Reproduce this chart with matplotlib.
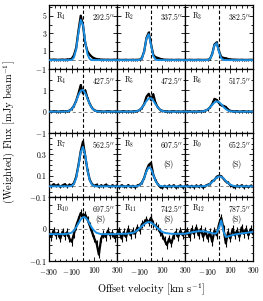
import matplotlib
matplotlib.use("Agg")
import matplotlib.pyplot as plt
from matplotlib.ticker import FixedLocator, MultipleLocator

plt.rcParams["font.family"] = "serif"
plt.rcParams["font.serif"] = ["cmr10", "DejaVu Serif"]
plt.rcParams["mathtext.fontset"] = "cm"
plt.rcParams["axes.formatter.use_mathtext"] = True

# offset velocity grid [km/s]
velocity = [-300, -280, -260, -240, -220, -200, -180, -160, -140, -120,
            -100, -80, -60, -40, -20, 0, 20, 40, 60, 80,
            100, 120, 140, 160, 180, 200, 220, 240, 260, 280, 300]

regions = ["R$_{1}$", "R$_{2}$", "R$_{3}$", "R$_{4}$", "R$_{5}$", "R$_{6}$",
           "R$_{7}$", "R$_{8}$", "R$_{9}$", "R$_{10}$", "R$_{11}$", "R$_{12}$"]
offsets = ["292.5", "337.5", "382.5", "427.5", "472.5", "517.5",
           "562.5", "607.5", "652.5", "697.5", "742.5", "787.5"]
smoothed = [False, False, False, False, False, False,
            False, True, True, True, True, True]

obs_r1 = [0.05, 0.04, 0.06, 0.05, 0.03, 0.05, 0.06, 0.04, 0.07, 0.08,
          0.15, 0.55, 1.4, 3.3, 5.0, 3.9, 1.9, 0.95, 0.6, 0.35,
          0.2, 0.12, 0.08, 0.06, 0.05, 0.04, 0.05, 0.03, 0.04, 0.05, 0.04]
obs_r2 = [0.03, 0.04, 0.02, 0.03, 0.04, 0.02, 0.03, 0.04, 0.03, 0.04,
          0.05, 0.25, 1.0, 2.5, 3.1, 1.8, 0.6, 0.3, 0.25, 0.15,
          0.08, 0.05, 0.04, 0.03, 0.04, 0.02, 0.03, 0.04, 0.03, 0.02, 0.03]
obs_r3 = [0.03, 0.02, 0.04, 0.03, 0.02, 0.03, 0.04, 0.03, 0.02, 0.03,
          0.04, 0.12, 0.7, 1.75, 2.0, 1.0, 0.35, 0.25, 0.2, 0.12,
          0.08, 0.06, 0.05, 0.04, 0.03, 0.04, 0.03, 0.02, 0.03, 0.04, 0.03]
obs_r4 = [0.01, 0.00, 0.02, 0.01, 0.00, 0.01, 0.02, 0.01, 0.02, 0.05,
          0.13, 0.28, 0.52, 0.85, 1.25, 0.85, 1.0, 0.62, 0.36, 0.17,
          0.07, 0.03, 0.02, 0.01, 0.00, 0.01, 0.02, 0.01, 0.00, 0.01, 0.01]
obs_r5 = [0.01, 0.00, 0.01, 0.02, 0.00, 0.01, 0.00, 0.01, 0.02, 0.03,
          0.08, 0.18, 0.36, 0.7, 0.84, 0.55, 0.82, 0.4, 0.2, 0.09,
          0.04, 0.02, 0.01, 0.00, 0.01, 0.02, 0.00, 0.01, 0.00, 0.01, 0.00]
obs_r6 = [0.00, 0.01, 0.02, 0.00, 0.01, 0.00, 0.02, 0.01, 0.02, 0.05,
          0.1, 0.2, 0.35, 0.6, 0.55, 0.4, 0.3, 0.27, 0.22, 0.1,
          0.04, 0.02, 0.01, 0.02, 0.00, 0.01, 0.02, 0.00, 0.01, 0.00, 0.01]
obs_r7 = [0.012, 0.000, 0.020, 0.005, 0.015, -0.005, 0.010, 0.020, 0.000, 0.015,
          0.010, 0.030, 0.090, 0.200, 0.330, 0.420, 0.280, 0.150, 0.060, 0.020,
          0.005, 0.015, -0.005, 0.010, 0.000, 0.015, 0.005, -0.005, 0.010, 0.000, 0.008]
obs_r8 = [0.005, -0.010, 0.010, 0.000, -0.005, 0.012, -0.008, 0.005, -0.010, 0.008,
          0.015, 0.035, 0.080, 0.150, 0.200, 0.220, 0.110, 0.055, 0.020, -0.005,
          -0.015, 0.005, -0.010, 0.008, -0.005, 0.010, -0.012, 0.000, 0.008, -0.010, 0.000]
obs_r9 = [0.000, 0.010, -0.008, 0.005, -0.010, 0.008, -0.005, 0.010, -0.012, 0.005,
          0.015, 0.020, 0.050, 0.060, 0.090, 0.100, 0.095, 0.070, 0.045, 0.035,
          0.010, 0.000, -0.010, 0.008, -0.005, 0.010, -0.010, 0.005, -0.008, 0.006, -0.004]
obs_r10 = [-0.010, -0.025, -0.005, -0.020, -0.012, -0.030, -0.008, -0.022, -0.010, -0.030,
           -0.040, -0.015, 0.010, 0.030, 0.050, 0.040, 0.045, 0.030, 0.010, -0.010,
           -0.030, -0.045, -0.080, -0.030, -0.015, -0.025, -0.005, -0.020, -0.012, -0.028, -0.015]
obs_r11 = [-0.020, -0.005, -0.030, -0.010, -0.025, 0.000, -0.020, -0.005, -0.015, 0.005,
           -0.005, 0.015, 0.020, 0.030, 0.020, 0.035, 0.015, 0.010, 0.005, -0.010,
           -0.020, -0.035, -0.050, -0.030, -0.045, -0.020, -0.010, -0.025, -0.005, -0.020, -0.010]
obs_r12 = [-0.020, -0.005, -0.025, 0.000, -0.015, 0.005, -0.020, 0.000, -0.025, -0.005,
           -0.030, -0.010, -0.040, -0.005, -0.020, 0.015, 0.035, 0.000, -0.045, -0.010,
           -0.030, 0.000, -0.020, -0.005, -0.025, 0.005, -0.015, 0.000, -0.020, 0.000, -0.015]

# model fit (blue)
fit_r1 = [0, 0, 0, 0, 0, 0, 0, 0, 0, 0,
          0.02, 0.29, 1.22, 3.05, 4.53, 3.97, 2.06, 0.63, 0.11, 0.01,
          0, 0, 0, 0, 0, 0, 0, 0, 0, 0, 0]
fit_r2 = [0, 0, 0, 0, 0, 0, 0, 0, 0, 0,
          0.02, 0.19, 0.98, 2.44, 2.93, 1.70, 0.47, 0.06, 0, 0,
          0, 0, 0, 0, 0, 0, 0, 0, 0, 0, 0]
fit_r3 = [0, 0, 0, 0, 0, 0, 0, 0, 0, 0,
          0.01, 0.11, 0.65, 1.68, 1.90, 0.94, 0.20, 0.02, 0, 0,
          0, 0, 0, 0, 0, 0, 0, 0, 0, 0, 0]
fit_r4 = [0, 0, 0, 0, 0, 0, 0, 0.003, 0.012, 0.04,
          0.12, 0.27, 0.50, 0.78, 0.98, 1.02, 0.87, 0.61, 0.35, 0.16,
          0.06, 0.02, 0.005, 0, 0, 0, 0, 0, 0, 0, 0]
fit_r5 = [0, 0, 0, 0, 0, 0, 0, 0.002, 0.009, 0.03,
          0.083, 0.18, 0.34, 0.50, 0.62, 0.63, 0.52, 0.35, 0.20, 0.09,
          0.034, 0.01, 0.003, 0, 0, 0, 0, 0, 0, 0, 0]
fit_r6 = [0, 0, 0, 0, 0, 0, 0, 0.005, 0.016, 0.044,
          0.10, 0.20, 0.32, 0.43, 0.48, 0.45, 0.35, 0.22, 0.12, 0.053,
          0.02, 0.006, 0.002, 0, 0, 0, 0, 0, 0, 0, 0]
fit_r7 = [0, 0, 0, 0, 0, 0, 0, 0, 0, 0.0005,
          0.004, 0.022, 0.078, 0.19, 0.32, 0.37, 0.29, 0.15, 0.055, 0.014,
          0.002, 0, 0, 0, 0, 0, 0, 0, 0, 0, 0]
fit_r8 = [0, 0, 0, 0, 0, 0, 0, 0, 0, 0.002,
          0.009, 0.032, 0.078, 0.14, 0.178, 0.164, 0.11, 0.052, 0.018, 0.004,
          0.001, 0, 0, 0, 0, 0, 0, 0, 0, 0, 0]
fit_r9 = [0, 0, 0, 0, 0, 0, 0, 0, 0.001, 0.004,
          0.010, 0.022, 0.040, 0.063, 0.083, 0.094, 0.090, 0.074, 0.051, 0.031,
          0.015, 0.007, 0.002, 0.001, 0, 0, 0, 0, 0, 0, 0]
fit_r10 = [-0.016, -0.016, -0.016, -0.016, -0.016, -0.016, -0.016, -0.016, -0.015, -0.014,
           -0.011, -0.0045, 0.005, 0.018, 0.030, 0.037, 0.036, 0.028, 0.015, 0.003,
           -0.006, -0.012, -0.014, -0.016, -0.016, -0.016, -0.016, -0.016, -0.016, -0.016, -0.016]
fit_r11 = [-0.015, -0.015, -0.015, -0.015, -0.015, -0.014, -0.013, -0.012, -0.009, -0.004,
           0.002, 0.009, 0.015, 0.020, 0.022, 0.020, 0.015, 0.009, 0.002, -0.004,
           -0.009, -0.012, -0.013, -0.014, -0.015, -0.015, -0.015, -0.015, -0.015, -0.015, -0.015]
fit_r12 = [-0.015, -0.013, -0.012, -0.010, -0.009, -0.008, -0.007, -0.007, -0.007, -0.008,
           -0.009, -0.011, -0.013, -0.015, -0.012, 0.004, 0.027, -0.008, -0.025, -0.023,
           -0.021, -0.019, -0.017, -0.016, -0.015, -0.014, -0.013, -0.012, -0.011, -0.010, -0.009]

observed = [obs_r1, obs_r2, obs_r3, obs_r4, obs_r5, obs_r6,
            obs_r7, obs_r8, obs_r9, obs_r10, obs_r11, obs_r12]
fits = [fit_r1, fit_r2, fit_r3, fit_r4, fit_r5, fit_r6,
        fit_r7, fit_r8, fit_r9, fit_r10, fit_r11, fit_r12]

# per-row axis settings
row_ylims = [(-1, 6.2), (-1, 2), (-0.1, 0.5), (-0.1, 0.1)]
row_yticks = [[-1, 1, 3, 5], [-1, 0, 1], [-0.1, 0.1, 0.3], [-0.1, 0]]
row_ylabels = [["$-1$", "1", "3", "5"], ["$-1$", "0", "1"],
               ["$-0.1$", "0.1", "0.3"], ["$-0.1$", "0"]]
row_yminor = [1, 0.5, 0.05, 0.025]
row_err = [0.12, 0.05, 0.012, 0.012]
row_s_y = [None, None, 0.5, 0.65]

blue = "#1a8fe3"

fig, axes = plt.subplots(4, 3, figsize=(2.63, 3.01), dpi=100)
fig.subplots_adjust(left=0.1863, right=0.962, top=0.9834, bottom=0.1329,
                    hspace=0, wspace=0)

for i, ax in enumerate(axes.flat):
    row, col = divmod(i, 3)
    err = [row_err[row]] * len(velocity)
    ax.errorbar(velocity, observed[i], yerr=err, fmt="-", color="black",
                lw=1.6, elinewidth=0.8, capsize=0, zorder=2)
    ax.plot(velocity, fits[i], color=blue, lw=1.4, zorder=3)
    ax.axvline(0, color="black", ls=(0, (3, 2)), lw=0.8, zorder=1)
    ax.axhline(0, color="gray", ls=(0, (3, 3)), lw=0.7, zorder=1)

    ax.set_xlim(-300, 300)
    ax.set_ylim(*row_ylims[row])
    if col == 0:
        xt = [-300, -100, 100, 300]
        xl = ["$-300$", "$-100$", "100", "300"]
    else:
        xt = [-100, 100, 300]
        xl = ["$-100$", "100", "300"]
    ax.xaxis.set_major_locator(FixedLocator(xt))
    ax.xaxis.set_minor_locator(MultipleLocator(50))
    ax.yaxis.set_major_locator(FixedLocator(row_yticks[row]))
    ax.yaxis.set_minor_locator(MultipleLocator(row_yminor[row]))
    ax.tick_params(which="both", direction="in", top=True, right=True,
                   labelsize=5.6, width=0.6, pad=2)
    ax.tick_params(axis="x", which="major", pad=4)
    ax.tick_params(which="major", length=3)
    ax.tick_params(which="minor", length=1.8)
    if col == 0:
        ax.set_yticklabels(row_ylabels[row])
    else:
        ax.set_yticklabels([])
    if row == 3:
        ax.set_xticklabels(xl)
    else:
        ax.set_xticklabels([])
    for s in ax.spines.values():
        s.set_linewidth(0.9)

    ax.text(0.1, 0.82, regions[i], transform=ax.transAxes, fontsize=5.5,
            ha="left", va="center")
    ax.text(0.97, 0.82, offsets[i] + "$''$", transform=ax.transAxes,
            fontsize=5.5, ha="right", va="center")
    if smoothed[i]:
        ax.text(0.76, row_s_y[row], "(S)", transform=ax.transAxes,
                fontsize=5.5, ha="center", va="center")

fig.text(0.575, 0.035, "Offset velocity [km s$^{-1}$]", ha="center",
         va="center", fontsize=7.5)
fig.text(0.035, 0.56, "(Weighted) Flux [mJy beam$^{-1}$]", ha="center",
         va="center", rotation=90, fontsize=7.5)

fig.savefig("out.png", dpi=100)
